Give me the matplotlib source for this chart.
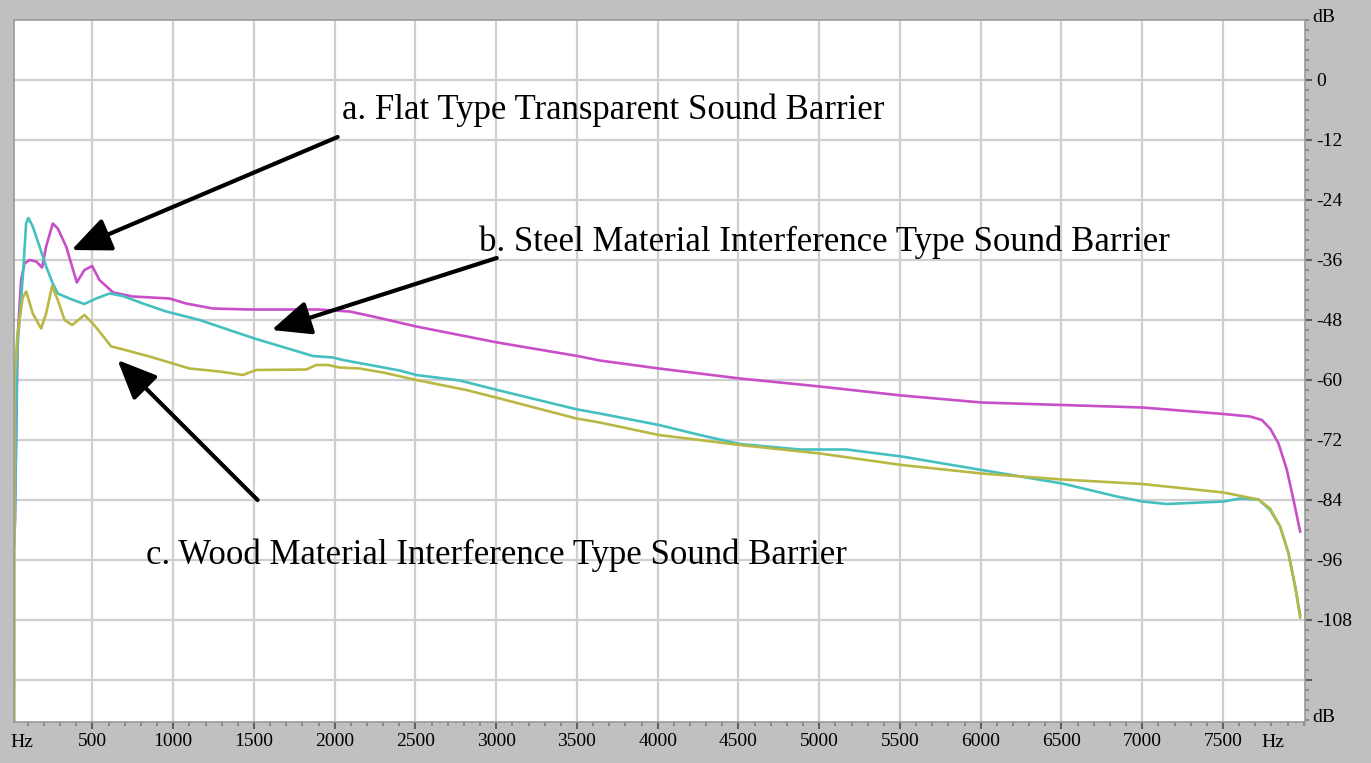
import matplotlib
matplotlib.use("Agg")
from matplotlib import pyplot as plt
from matplotlib.ticker import MultipleLocator

# spectrum readings (Hz, dB) for the three barriers
flat_freq = [16, 20, 37, 58, 79, 110, 151, 188, 213, 254, 285, 337, 403, 450, 498, 543, 628, 750,
             977, 1080, 1245, 1473, 1659, 1900, 2092, 2237, 2505, 3007, 3503, 3641, 4008, 4509,
             5004, 5510, 6006, 6505, 7001, 7503, 7668, 7741, 7792, 7844, 7896, 7937, 7978]
flat_db = [-92, -88, -51.3, -40, -36.7, -36, -36.3, -37.5, -33.3, -28.7, -29.7, -33.3, -40.5, -38,
           -37.2, -40, -42.5, -43.3, -43.7, -44.7, -45.7, -45.9, -45.9, -45.9, -46.3, -47.3, -49.3,
           -52.5, -55.2, -56.1, -57.7, -59.7, -61.3, -63.1, -64.5, -65, -65.5, -66.8, -67.3, -68,
           -69.7, -72.7, -78, -84, -90.3]

steel_freq = [16, 20, 33, 48, 70, 89, 103, 130, 172, 213, 254, 285, 357, 450, 523, 605, 688, 812,
              957, 1163, 1503, 1865, 1989, 2051, 2402, 2505, 2774, 3007, 3503, 3641, 4008, 4261,
              4509, 4880, 5170, 5510, 6006, 6505, 6843, 7001, 7152, 7503, 7607, 7720, 7792, 7854,
              7906, 7947, 7978]
steel_db = [-93, -88, -54.7, -48, -38.7, -28.7, -27.6, -29.3, -33.3, -37.3, -40.7, -42.7, -43.7,
            -44.8, -43.7, -42.7, -43.2, -44.7, -46.3, -48, -51.7, -55.2, -55.5, -56, -58.1, -59,
            -60.1, -62, -65.9, -66.7, -69, -71, -72.8, -73.9, -73.9, -75.3, -78, -80.7, -83.3,
            -84.3, -84.8, -84.3, -83.7, -83.9, -86, -89.3, -94.7, -101.3, -107]

wood_freq = [16, 17, 35, 68, 90, 130, 182, 213, 250, 285, 327, 374, 450, 502, 543, 616, 667, 853,
             1101, 1287, 1431, 1514, 1824, 1886, 1958, 2030, 2154, 2299, 2505, 2815, 3022, 3497,
             3641, 4008, 4509, 5004, 5510, 6006, 6505, 7001, 7503, 7720, 7792, 7854, 7906, 7947,
             7978]
wood_db = [-135, -60, -51, -43.5, -42.3, -46.7, -49.7, -46.7, -41.2, -44, -48, -49, -47, -48.7,
           -50.3, -53.3, -53.7, -55.3, -57.7, -58.3, -59, -58, -57.9, -57, -57, -57.5, -57.7, -58.5,
           -60, -62, -63.7, -67.7, -68.5, -71, -73, -74.7, -77, -78.7, -79.9, -80.8, -82.5, -83.9,
           -85.7, -89.3, -94.7, -101.3, -107.5]

x_ticks = list(range(500, 8000, 500))
y_ticks = list(range(0, -109, -12))

labels = ["a. Flat Type Transparent Sound Barrier",
          "b. Steel Material Interference Type Sound Barrier",
          "c. Wood Material Interference Type Sound Barrier"]
label_pos = [(2045, -6), (2895, -32.4), (830, -95)]
arrow_tail = [(2018, -11.4), (3003, -35.6), (1522, -84)]
arrow_head = [(370, -34), (1609, -50), (655, -56)]

plt.rcParams['font.family'] = ['Liberation Serif', 'DejaVu Serif']

fig = plt.figure(figsize=(13.71, 7.63), dpi=100, facecolor='#c0c0c0')
ax = fig.add_axes([14 / 1371, 41 / 763, 1291 / 1371, 702 / 763])
ax.set_facecolor('white')

ax.plot(flat_freq, flat_db, color='#c84fc8', lw=1.9)
ax.plot(steel_freq, steel_db, color='#45c0c0', lw=1.9)
ax.plot(wood_freq, wood_db, color='#b9b845', lw=1.9)

ax.set_xlim(14, 8008)
ax.set_ylim(-128.4, 12)

ax.set_xticks(x_ticks)
ax.set_xticklabels([str(v) for v in x_ticks])
ax.xaxis.set_minor_locator(MultipleLocator(100))
ax.set_yticks(y_ticks + [-120])
ax.set_yticklabels([str(v) for v in y_ticks] + [''])
ax.yaxis.set_minor_locator(MultipleLocator(2))
ax.yaxis.tick_right()
ax.tick_params(axis='both', which='major', labelsize=14, colors='#606060', labelcolor='black',
               length=5, width=1.5, pad=3)
ax.tick_params(axis='both', which='minor', colors='#808080', length=3, width=1.2)

ax.grid(True, which='major', color='#cfcfcf', lw=1.6)
for s in ax.spines.values():
    s.set_color('#9a9a9a')
    s.set_linewidth(1.2)

ax.text(-0.003, -0.017, "Hz", transform=ax.transAxes, ha='left', va='top', fontsize=14)
ax.text(0.975, -0.017, "Hz", transform=ax.transAxes, ha='center', va='top', fontsize=14)
ax.text(1.006, 1.003, "dB", transform=ax.transAxes, ha='left', va='center', fontsize=14)
ax.text(1.006, 0.007, "dB", transform=ax.transAxes, ha='left', va='center', fontsize=14)

for txt, pos, tail, head in zip(labels, label_pos, arrow_tail, arrow_head):
    ax.text(pos[0], pos[1], txt, fontsize=25, ha='left', va='center')
    ax.annotate("", xy=head, xytext=tail,
                arrowprops=dict(arrowstyle='-|>,head_length=0.8,head_width=0.35',
                                color='black', lw=3, mutation_scale=30,
                                shrinkA=0, shrinkB=0))

fig.savefig("out.png", dpi=100, facecolor=fig.get_facecolor())
